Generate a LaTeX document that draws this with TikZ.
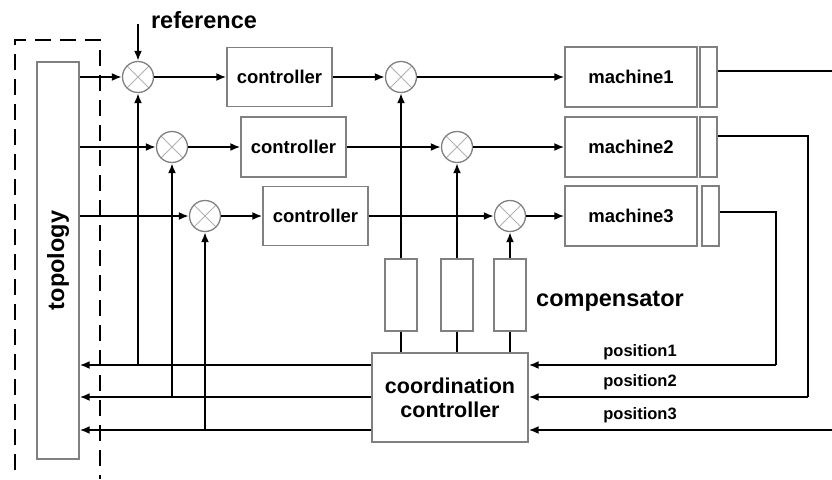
\documentclass[tikz,border=0pt]{standalone}
\usepackage{fontspec}
\setmainfont{Liberation Sans}
\usepackage{graphicx}
\usetikzlibrary{arrows.meta}

\newcommand{\blockfont}{\fontsize{18.5}{20}\selectfont\bfseries}
\newcommand{\ccfont}{\fontsize{21.5}{24}\selectfont\bfseries}
\newcommand{\bigfont}{\fontsize{23.5}{26}\selectfont\bfseries}
\newcommand{\posfont}{\fontsize{16.5}{18}\selectfont\bfseries}

\tikzset{
  blk/.style={draw=gray, line width=1.3pt, inner sep=0pt},
  sum/.style={circle, draw=gray, line width=1.3pt, minimum size=31pt, inner sep=0pt,
    path picture={\draw [gray!60, line width=1pt]
      (path picture bounding box.north west) -- (path picture bounding box.south east)
      (path picture bounding box.north east) -- (path picture bounding box.south west);}},
  wire/.style={line width=2pt},
  sig/.style={wire, -{Latex[length=10pt,width=8pt]}}
}

\begin{document}
\begin{tikzpicture}[x=1pt,y=-1pt]
\useasboundingbox (0,0) rectangle (832,479);

\draw [wire, dash pattern=on 16pt off 9pt] (15,470) -- (15,40) -- (100,40) -- (100,479);
\node [blk, minimum width=42pt, minimum height=397pt] (topo) at (58,260.5) {\rotatebox{90}{\bigfont topology}};

\node [font=\bigfont] (reflbl) at (204,20) {reference};
\coordinate (refin) at (138,24);

\node [sum] (s1) at (138,77) {};
\node [sum] (s2) at (172,147) {};
\node [sum] (s3) at (205,216) {};

\node [blk, minimum width=105pt, minimum height=59pt, font=\blockfont] (c1) at (279.5,77) {controller};
\node [blk, minimum width=105pt, minimum height=60pt, font=\blockfont] (c2) at (293.5,147) {controller};
\node [blk, minimum width=105pt, minimum height=59pt, font=\blockfont] (c3) at (315.5,216) {controller};

\node [sum] (t1) at (401,77) {};
\node [sum] (t2) at (457,147) {};
\node [sum] (t3) at (510,216) {};

\node [blk, minimum width=132pt, minimum height=60pt, font=\blockfont] (m1) at (631,77) {machine1};
\node [blk, minimum width=132pt, minimum height=60pt, font=\blockfont] (m2) at (631,147) {machine2};
\node [blk, minimum width=132pt, minimum height=60pt, font=\blockfont] (m3) at (631,216) {machine3};
\node [blk, minimum width=17pt, minimum height=60pt] (e1) at (708.5,77) {};
\node [blk, minimum width=17pt, minimum height=60pt] (e2) at (708.5,147) {};
\node [blk, minimum width=17pt, minimum height=60pt] (e3) at (710.5,216) {};

\node [blk, minimum width=32pt, minimum height=72pt] (k1) at (401,295) {};
\node [blk, minimum width=32pt, minimum height=72pt] (k2) at (457,295) {};
\node [blk, minimum width=32pt, minimum height=72pt] (k3) at (510,295) {};
\node [font=\bigfont] (complbl) at (610,301) {compensator};

\node [blk, minimum width=156pt, minimum height=89pt, align=center, font=\ccfont] (cc) at (450,397.5) {coordination\\controller};

\coordinate (o1) at (832,71);
\coordinate (o2) at (808,136);
\coordinate (o3) at (776,212);
\coordinate (r1) at (776,365);
\coordinate (r2) at (808,397);
\coordinate (r3) at (832,430);
\node [font=\posfont] (p1) at (640,352) {position1};
\node [font=\posfont] (p2) at (640,382) {position2};
\node [font=\posfont] (p3) at (640,415) {position3};

\draw [sig] (refin) -- (s1);
\draw [sig] (topo.east |- s1) -- (s1);
\draw [sig] (topo.east |- s2) -- (s2);
\draw [sig] (topo.east |- s3) -- (s3);
\draw [sig] (s1) -- (c1);
\draw [sig] (s2) -- (c2);
\draw [sig] (s3) -- (c3);
\draw [sig] (c1) -- (t1);
\draw [sig] (c2) -- (t2);
\draw [sig] (c3) -- (t3);
\draw [sig] (t1) -- (m1);
\draw [sig] (t2) -- (m2);
\draw [sig] (t3) -- (m3);

\draw [sig] (k1) -- (t1);
\draw [sig] (k2) -- (t2);
\draw [sig] (k3) -- (t3);
\draw [wire] (k1) -- (k1 |- cc.north);
\draw [wire] (k2) -- (k2 |- cc.north);
\draw [wire] (k3) -- (k3 |- cc.north);

\draw [wire] (e1.east |- o1) -- (o1);
\draw [wire] (e2.east |- o2) -- (o2) -- (r2);
\draw [wire] (e3.east |- o3) -- (o3) -- (r1);
\draw [sig] (r1) -- (r1 -| cc.east);
\draw [sig] (r2) -- (r2 -| cc.east);
\draw [sig] (r3) -- (r3 -| cc.east);

\draw [sig] (cc.west |- r1) -- (topo.east |- r1);
\draw [sig] (cc.west |- r2) -- (topo.east |- r2);
\draw [sig] (cc.west |- r3) -- (topo.east |- r3);
\draw [sig] (s1 |- r1) -- (s1);
\draw [sig] (s2 |- r2) -- (s2);
\draw [sig] (s3 |- r3) -- (s3);

\end{tikzpicture}
\end{document}
